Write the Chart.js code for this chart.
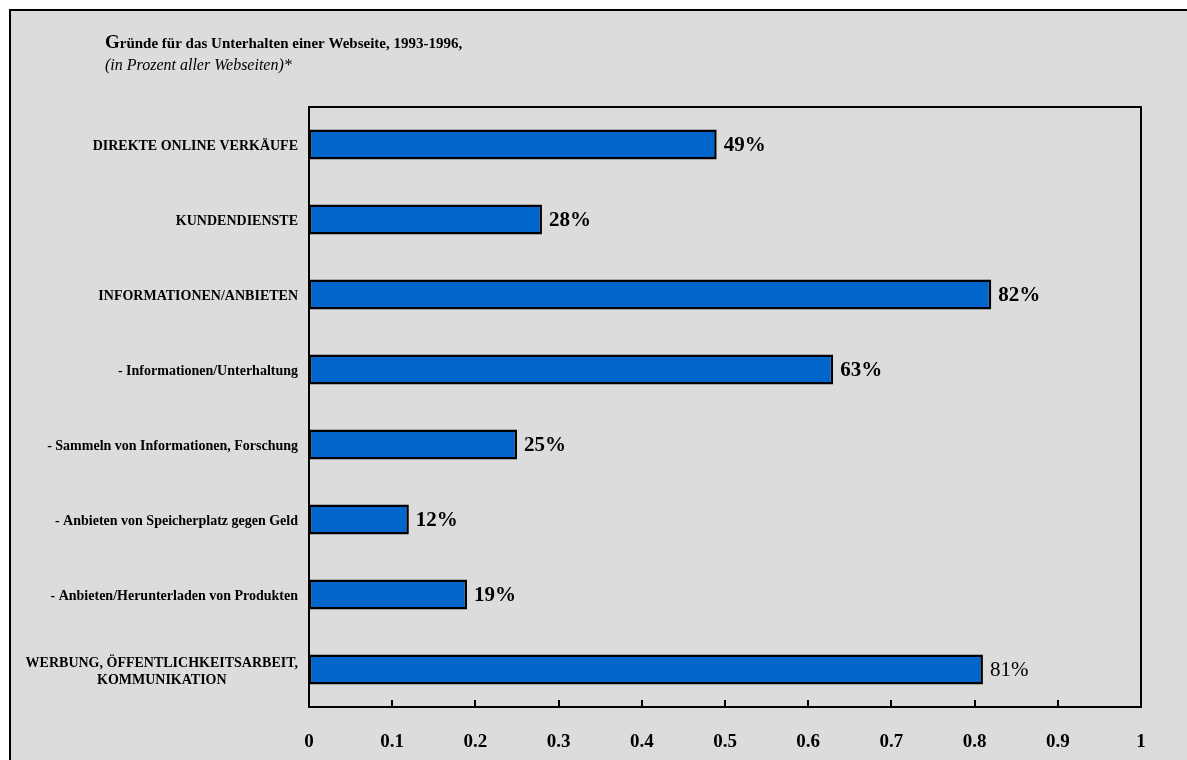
<!DOCTYPE html>
<html>
<head>
<meta charset="utf-8">
<script src="https://cdn.jsdelivr.net/npm/chart.js@4/dist/chart.umd.min.js"></script>
<style>
  html, body { margin: 0; padding: 0; background: #fff; }
  canvas { display: block; }
</style>
</head>
<body>
<canvas id="chart" width="1187" height="760"></canvas>
<script>
const titleText = 'Gründe für das Unterhalten einer Webseite, 1993-1996,';
const subtitleText = '(in Prozent aller Webseiten)*';

const categories = [
  ['DIREKTE ONLINE VERKÄUFE'],
  ['KUNDENDIENSTE'],
  ['INFORMATIONEN/ANBIETEN'],
  ['- Informationen/Unterhaltung'],
  ['- Sammeln von Informationen, Forschung'],
  ['- Anbieten von Speicherplatz gegen Geld'],
  ['- Anbieten/Herunterladen von Produkten'],
  ['WERBUNG, ÖFFENTLICHKEITSARBEIT,', 'KOMMUNIKATION']
];
const shares = [0.49, 0.28, 0.82, 0.63, 0.25, 0.12, 0.19, 0.81];

const SERIF = "'Liberation Serif', 'Times New Roman', serif";
const BG = '#dcdcdc';
const BAR = '#0066cc';

const pct = v => Math.round(v * 100) + '%';

// page background, outer frame and heading
const backdrop = {
  id: 'backdrop',
  beforeDraw(chart) {
    const { ctx, width, height } = chart;
    ctx.save();
    ctx.fillStyle = '#fff';
    ctx.fillRect(0, 0, width, height);
    ctx.fillStyle = BG;
    ctx.fillRect(9, 9, width - 9, height - 9);
    ctx.strokeStyle = '#000';
    ctx.lineWidth = 2;
    ctx.beginPath();
    ctx.moveTo(10, height);
    ctx.lineTo(10, 10);
    ctx.lineTo(width, 10);
    ctx.stroke();

    ctx.fillStyle = '#000';
    ctx.textBaseline = 'alphabetic';
    ctx.textAlign = 'left';
    ctx.font = `bold 19px ${SERIF}`;
    ctx.fillText(titleText[0], 105, 48);
    const gW = ctx.measureText(titleText[0]).width;
    ctx.font = `bold 15px ${SERIF}`;
    ctx.fillText(titleText.slice(1), 105 + gW, 48);
    ctx.font = `italic 16px ${SERIF}`;
    ctx.fillText(subtitleText, 105, 70);
    ctx.restore();
  }
};

// plot box, inward ticks, category and value labels
const decorations = {
  id: 'decorations',
  afterDatasetsDraw(chart) {
    const { ctx, chartArea: a } = chart;
    const xs = chart.scales.x;
    const ys = chart.scales.y;
    ctx.save();
    ctx.strokeStyle = '#000';
    ctx.lineWidth = 2;
    ctx.strokeRect(a.left, a.top, a.right - a.left, a.bottom - a.top);

    ctx.beginPath();
    xs.ticks.forEach(t => {
      const x = Math.round(xs.getPixelForValue(t.value));
      ctx.moveTo(x, a.bottom);
      ctx.lineTo(x, a.bottom - 7);
    });
    ctx.stroke();

    // category labels: blocks right-aligned, lines centred within a block
    ctx.fillStyle = '#000';
    ctx.font = `bold 14px ${SERIF}`;
    ctx.textBaseline = 'middle';
    ctx.textAlign = 'center';
    const lineH = 17;
    categories.forEach((lines, i) => {
      const y = ys.getPixelForValue(i) + 2;
      const w = Math.max(...lines.map(l => ctx.measureText(l).width));
      const cx = a.left - 11 - w / 2;
      const y0 = y - (lines.length - 1) * lineH / 2;
      lines.forEach((l, k) => ctx.fillText(l, cx, y0 + k * lineH));
    });

    // value labels next to the bar ends
    ctx.textAlign = 'left';
    const meta = chart.getDatasetMeta(0);
    meta.data.forEach((bar, i) => {
      const weight = i === shares.length - 1 ? 'normal' : 'bold';
      ctx.font = `${weight} 21px ${SERIF}`;
      ctx.fillText(pct(shares[i]), bar.x + 7, bar.y + 1);
    });
    ctx.restore();
  }
};

new Chart(document.getElementById('chart'), {
  type: 'bar',
  data: {
    labels: categories,
    datasets: [{
      data: shares,
      backgroundColor: BAR,
      borderColor: '#000',
      borderWidth: 2.5,
      borderSkipped: false,
      categoryPercentage: 1,
      barPercentage: 0.4
    }]
  },
  options: {
    indexAxis: 'y',
    responsive: false,
    devicePixelRatio: 1,
    animation: false,
    layout: { padding: { left: 0, top: 107, right: 46, bottom: 0 } },
    plugins: {
      legend: { display: false },
      tooltip: { enabled: false }
    },
    scales: {
      x: {
        min: 0,
        max: 1,
        grid: { display: false, drawTicks: false },
        border: { display: false },
        ticks: {
          stepSize: 0.1,
          padding: 24,
          color: '#000',
          font: { family: SERIF, size: 19, weight: 'bold' },
          callback: v => String(+v.toFixed(1))
        },
        afterFit(scale) { scale.height = 53; }
      },
      y: {
        grid: { display: false, drawTicks: false },
        border: { display: false },
        ticks: { display: false },
        afterFit(scale) { scale.width = 309; }
      }
    }
  },
  plugins: [backdrop, decorations]
});
</script>
</body>
</html>
